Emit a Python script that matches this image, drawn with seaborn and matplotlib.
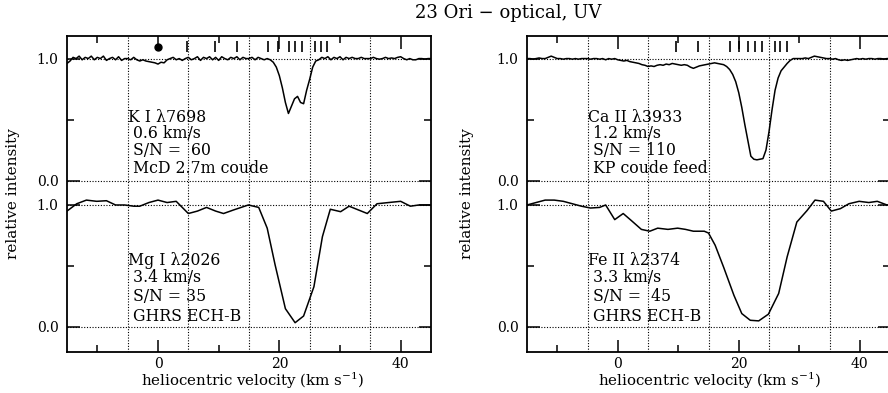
import seaborn as sns
import matplotlib.pyplot as plt
import pandas as pd

# velocity grid of the optical spectra (km/s)
opt_vel = [-15.0, -14.5, -14.0, -13.5, -13.0, -12.5, -12.0, -11.5, -11.0, -10.5,
           -10.0, -9.5, -9.0, -8.5, -8.0, -7.5, -7.0, -6.5, -6.0, -5.5,
           -5.0, -4.5, -4.0, -3.5, -3.0, -2.5, -2.0, -1.5, -1.0, -0.5,
           0.0, 0.5, 1.0, 1.5, 2.0, 2.5, 3.0, 3.5, 4.0, 4.5,
           5.0, 5.5, 6.0, 6.5, 7.0, 7.5, 8.0, 8.5, 9.0, 9.5,
           10.0, 10.5, 11.0, 11.5, 12.0, 12.5, 13.0, 13.5, 14.0, 14.5,
           15.0, 15.5, 16.0, 16.5, 17.0, 17.5, 18.0, 18.5, 19.0, 19.5,
           20.0, 20.5, 21.0, 21.5, 22.0, 22.5, 23.0, 23.5, 24.0, 24.5,
           25.0, 25.5, 26.0, 26.5, 27.0, 27.5, 28.0, 28.5, 29.0, 29.5,
           30.0, 30.5, 31.0, 31.5, 32.0, 32.5, 33.0, 33.5, 34.0, 34.5,
           35.0, 35.5, 36.0, 36.5, 37.0, 37.5, 38.0, 38.5, 39.0, 39.5,
           40.0, 40.5, 41.0, 41.5, 42.0, 42.5, 43.0, 43.5, 44.0, 44.5,
           45.0]

# K I 7698
ki_flux = [0.96, 0.98, 1.01, 1.0, 1.02, 0.99, 1.01, 1.0, 1.02, 0.99,
           1.01, 1.0, 1.02, 0.985, 1.0, 1.01, 0.99, 1.015, 0.985, 1.0,
           1.0, 0.99, 1.01, 0.99, 0.98, 0.99, 0.98, 0.975, 0.97, 0.965,
           0.955, 0.97, 0.965, 0.99, 1.0, 1.01, 0.99, 1.0, 0.985, 1.0,
           1.01, 0.99, 1.0, 1.015, 0.985, 1.01, 1.0, 1.015, 0.99, 1.01,
           0.985, 1.015, 1.0, 0.99, 1.01, 1.0, 1.015, 0.99, 1.01, 1.0,
           1.0, 1.01, 0.99, 1.01, 1.0, 0.99, 1.0, 0.99, 0.97, 0.93,
           0.86, 0.76, 0.64, 0.55, 0.61, 0.67, 0.69, 0.64, 0.63, 0.74,
           0.83, 0.93, 0.98, 0.99, 1.01, 1.0, 1.015, 0.99, 1.01, 1.0,
           1.015, 0.99, 1.01, 1.0, 1.01, 1.0, 1.0, 1.01, 1.0, 1.0,
           1.0, 1.01, 1.0, 0.995, 1.0, 1.01, 1.0, 1.005, 1.0, 1.01,
           1.015, 1.0, 0.99, 1.0, 0.99, 0.99, 1.0, 1.0, 0.995, 1.0,
           1.0]

# Ca II 3933
ca_flux = [1.0, 1.0, 0.995, 1.0, 1.005, 1.0, 1.0, 1.01, 1.02, 1.01,
           1.0, 1.0, 0.995, 1.0, 1.0, 0.995, 1.0, 0.995, 1.0, 1.0,
           1.0, 0.995, 1.0, 1.0, 0.995, 1.0, 0.99, 1.0, 0.995, 1.0,
           0.99, 0.985, 0.98, 0.985, 0.975, 0.97, 0.965, 0.96, 0.95, 0.945,
           0.935, 0.94, 0.935, 0.945, 0.95, 0.945, 0.955, 0.95, 0.96, 0.955,
           0.95, 0.945, 0.95, 0.945, 0.93, 0.92, 0.93, 0.94, 0.945, 0.95,
           0.955, 0.96, 0.965, 0.96, 0.955, 0.95, 0.935, 0.91, 0.87, 0.81,
           0.72, 0.60, 0.46, 0.33, 0.20, 0.175, 0.17, 0.175, 0.18, 0.25,
           0.40, 0.58, 0.74, 0.84, 0.90, 0.93, 0.96, 0.985, 1.0, 1.0,
           1.0, 1.0, 1.005, 1.0, 1.01, 1.02, 1.015, 1.01, 1.005, 1.0,
           1.0, 0.995, 1.0, 0.99, 0.985, 0.99, 0.985, 0.99, 0.995, 1.0,
           0.995, 1.0, 0.995, 1.0, 1.0, 0.995, 1.0, 1.0, 0.995, 1.0,
           1.0]

# Mg I 2026 (GHRS)
mg_vel = [-15.0, -13.4, -11.8, -10.1, -8.5, -7.0, -5.5, -4.0, -3.0, -1.5,
          0.0, 1.5, 3.0, 5.0, 6.5, 8.0, 9.5, 10.8, 12.5, 14.9,
          16.6, 18.0, 19.3, 21.0, 22.6, 24.0, 25.7, 27.1, 28.4, 30.1,
          31.5, 33.0, 34.5, 36.1, 38.0, 40.0, 41.6, 43.0, 45.0]
mg_flux = [0.95, 1.01, 1.04, 1.03, 1.035, 1.0, 1.0, 0.99, 0.99, 1.02,
           1.04, 1.02, 1.03, 0.93, 0.95, 0.98, 0.95, 0.93, 0.96, 1.0,
           0.98, 0.81, 0.51, 0.15, 0.035, 0.09, 0.33, 0.74, 0.965, 0.945,
           0.99, 0.96, 0.93, 1.01, 1.02, 1.03, 0.99, 1.0, 1.0]

# Fe II 2374 (GHRS)
fe_vel = [-15.0, -13.5, -12.0, -10.5, -9.0, -7.5, -6.0, -4.5, -3.0, -2.0,
          -0.5, 0.9, 2.3, 3.9, 5.3, 6.6, 8.3, 9.9, 11.2, 12.5,
          14.3, 15.0, 16.1, 17.5, 19.2, 20.5, 21.9, 23.3, 24.9, 26.6,
          28.0, 29.6, 31.3, 32.6, 34.0, 35.3, 36.8, 38.2, 39.9, 41.5,
          42.9, 44.5, 45.0]
fe_flux = [1.0, 1.02, 1.04, 1.04, 1.03, 1.01, 0.99, 0.975, 0.98, 1.0,
           0.88, 0.93, 0.87, 0.80, 0.785, 0.81, 0.80, 0.81, 0.80, 0.785,
           0.785, 0.77, 0.67, 0.49, 0.26, 0.11, 0.055, 0.05, 0.105, 0.275,
           0.575, 0.86, 0.955, 1.04, 1.03, 0.95, 0.97, 1.01, 1.03, 1.02,
           1.03, 1.0, 1.0]

# velocity components marked along the top
comps_left = [4.8, 9.4, 13.1, 18.2, 19.8, 21.6, 22.6, 23.8, 25.9, 26.8, 27.9]
comps_right = [9.6, 13.2, 18.5, 20.1, 21.6, 22.7, 23.9, 26.0, 26.9, 28.0]

labels_left = [["K I λ7698", " 0.6 km/s", " S/N =  60", " McD 2.7m coude"],
               ["Mg I λ2026", " 3.4 km/s", " S/N = 35", " GHRS ECH-B"]]
labels_right = [["Ca II λ3933", " 1.2 km/s", " S/N = 110", " KP coude feed"],
                ["Fe II λ2374", " 3.3 km/s", " S/N =  45", " GHRS ECH-B"]]

offset = 1.2

sns.set_theme(style="ticks")
plt.rcParams['font.family'] = ['DejaVu Serif']
plt.rcParams['mathtext.fontset'] = 'dejavuserif'

fig = plt.figure(figsize=(8.88, 3.93), dpi=100)
ax1 = fig.add_axes([67 / 888, 1 - 352 / 393, 364 / 888, 316 / 393])
ax2 = fig.add_axes([527 / 888, 1 - 352 / 393, 363 / 888, 316 / 393])

panels = [
    (ax1, ki_flux, mg_vel, mg_flux, comps_left, labels_left, -0.129, 0.511),
    (ax2, ca_flux, fe_vel, fe_flux, comps_right, labels_right, -0.146, 0.504),
]

for ax, top_flux, bot_vel, bot_flux, comps, labels, ylab_x, xlab_x in panels:
    top = pd.DataFrame({'v': opt_vel, 'f': [f + offset for f in top_flux]})
    bot = pd.DataFrame({'v': bot_vel, 'f': bot_flux})

    for gv in [-5, 5, 15, 25, 35]:
        ax.axvline(gv, color='black', lw=0.8, ls=(0, (1, 1.5)), zorder=1)
    for gh in [0, 1, offset, offset + 1]:
        ax.axhline(gh, color='black', lw=0.8, ls=(0, (1, 1.5)), zorder=1)

    sns.lineplot(data=top, x='v', y='f', ax=ax, color='black', lw=1.1,
                 estimator=None, sort=False)
    sns.lineplot(data=bot, x='v', y='f', ax=ax, color='black', lw=1.1,
                 estimator=None, sort=False)

    ax.vlines(comps, 2.25, 2.34, color='black', lw=1.2)

    for block, ys in zip(labels, [[1.721, 1.582, 1.443, 1.303],
                                  [0.549, 0.402, 0.246, 0.090]]):
        for txt, yy in zip(block, ys):
            ax.text(-4.9, yy, txt, ha='left', va='center', fontsize=11.3,
                    color='black')

    ax.set_xlim(-15, 45)
    ax.set_ylim(-0.205, 2.385)
    ax.set_xticks([0, 20, 40])
    ax.set_xticks([-10, 10, 30], minor=True)
    ax.set_yticks([0, 1, offset, offset + 1])
    ax.set_yticklabels(['0.0', '1.0', '0.0', '1.0'])
    ax.set_yticks([0.5, offset + 0.5], minor=True)
    ax.tick_params(which='both', direction='in', top=True, right=True,
                   color='black', labelcolor='black', labelsize=10, pad=6)
    ax.tick_params(axis='x', which='both', pad=3.5)
    ax.tick_params(which='major', length=9, width=1.1)
    ax.tick_params(which='minor', length=5, width=1.1)
    for sp in ax.spines.values():
        sp.set_linewidth(1.3)
        sp.set_color('black')

    ax.set_xlabel('heliocentric velocity (km s$^{-1}$)', fontsize=10.8,
                  color='black')
    ax.set_ylabel('relative intensity', fontsize=11, color='black')
    ax.xaxis.set_label_coords(xlab_x, -0.058)
    ax.yaxis.set_label_coords(ylab_x, 0.5)

ax1.plot([0], [2.295], 'o', color='black', ms=5)

fig.text(508 / 888, 1 - 12.5 / 393, '23 Ori − optical, UV', ha='center',
         va='center', fontsize=13, color='black')

fig.savefig('out.png', dpi=100)
